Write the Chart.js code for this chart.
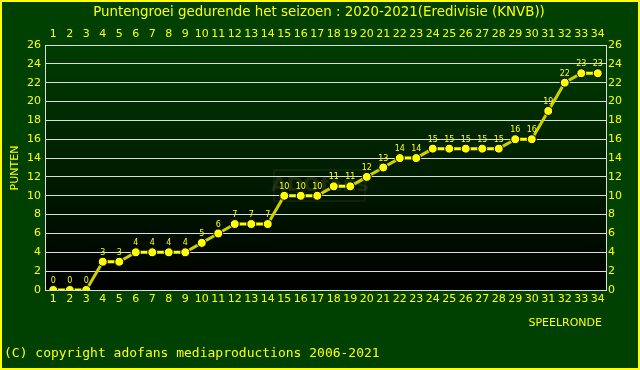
<!DOCTYPE html>
<html>
<head>
<meta charset="utf-8">
<script src="https://cdn.jsdelivr.net/npm/chart.js@4/dist/chart.umd.min.js"></script>
<style>
  html, body { margin: 0; padding: 0; background: #004000; }
  #wrap { width: 640px; height: 370px; position: relative; }
</style>
</head>
<body>
<div id="wrap"><canvas id="canvas1" width="640" height="370"></canvas></div>
<script>
const rondes = [];
for (let i = 1; i <= 34; i++) rondes.push(String(i));
const punten = [0, 0, 0, 3, 3, 4, 4, 4, 4, 5, 6, 7, 7, 7, 10, 10, 10, 11, 11, 12, 13, 14, 14, 15, 15, 15, 15, 15, 16, 16, 19, 22, 23, 23];
const titel = 'Puntengroei gedurende het seizoen : 2020-2021(Eredivisie (KNVB))';
const yTitel = 'PUNTEN';
const xTitel = 'SPEELRONDE';
const copyright = '(C) copyright adofans mediaproductions 2006-2021';

const GEEL = '#ffff00';
const FONT = 'DejaVu Sans';

// achtergrond, rand en losse teksten
const decor = {
    id: 'decor',
    beforeDraw(chart) {
        const ctx = chart.ctx;
        const a = chart.chartArea;
        ctx.save();
        ctx.fillStyle = '#004000';
        ctx.fillRect(0, 0, chart.width, chart.height);
        const g = ctx.createLinearGradient(0, a.top, 0, a.bottom);
        g.addColorStop(0, '#003c00');
        g.addColorStop(1, '#000000');
        ctx.fillStyle = g;
        ctx.fillRect(a.left, a.top, a.right - a.left, a.bottom - a.top);
        // vage watermerk
        ctx.strokeStyle = 'rgba(90,90,60,0.35)';
        ctx.lineWidth = 1;
        ctx.strokeRect(274, 170, 91, 31);
        ctx.fillStyle = 'rgba(90,90,60,0.3)';
        ctx.font = 'bold 20px ' + FONT;
        ctx.textAlign = 'center';
        ctx.textBaseline = 'middle';
        ctx.fillText('ADOfans', 320, 186);
        ctx.restore();
    },
    afterDraw(chart) {
        const ctx = chart.ctx;
        ctx.save();
        ctx.fillStyle = GEEL;
        ctx.font = '13.4px ' + FONT;
        ctx.textAlign = 'center';
        ctx.textBaseline = 'middle';
        ctx.fillText(titel, 319, 13);

        ctx.font = '11px ' + FONT;
        ctx.save();
        ctx.translate(15, 168);
        ctx.rotate(-Math.PI / 2);
        ctx.fillText(yTitel, 0, 0);
        ctx.restore();

        ctx.textAlign = 'right';
        ctx.fillText(xTitel, 602, 323);

        ctx.textAlign = 'left';
        ctx.font = '13px DejaVu Sans Mono';
        ctx.fillText(copyright, 4, 354);

        ctx.strokeStyle = GEEL;
        ctx.lineWidth = 2;
        ctx.strokeRect(1, 1, chart.width - 2, chart.height - 2);
        ctx.restore();
    },
    afterDatasetsDraw(chart) {
        const ctx = chart.ctx;
        const meta = chart.getDatasetMeta(0);
        ctx.save();
        ctx.fillStyle = GEEL;
        ctx.font = '8px ' + FONT;
        ctx.textAlign = 'center';
        ctx.textBaseline = 'bottom';
        meta.data.forEach((pt, i) => {
            ctx.fillText(punten[i], pt.x, pt.y - 5);
        });
        ctx.restore();
    }
};

const tickFont = { family: FONT, size: 11 };

const config = {
    type: 'line',
    data: {
        labels: rondes,
        datasets: [{
            data: punten,
            borderColor: GEEL,
            borderWidth: 3,
            pointRadius: 4.5,
            pointBackgroundColor: GEEL,
            pointBorderColor: '#000000',
            pointBorderWidth: 1,
            tension: 0,
            segment: {
                borderColor: c => c.p0.parsed.y === c.p1.parsed.y ? GEEL : '#d0d000'
            },
            xAxisID: 'x',
            yAxisID: 'y'
        }]
    },
    options: {
        responsive: false,
        animation: false,
        layout: { padding: 0 },
        plugins: {
            legend: { display: false },
            tooltip: { enabled: false },
            title: { display: false }
        },
        scales: {
            x: {
                position: 'bottom',
                offset: true,
                grid: { display: false, drawTicks: false },
                border: { display: true, color: '#dddddd', width: 1 },
                ticks: { color: GEEL, font: tickFont, padding: 3, maxRotation: 0, autoSkip: false },
                afterFit: s => { s.height = 80; }
            },
            x2: {
                position: 'top',
                type: 'category',
                labels: rondes,
                offset: true,
                grid: { display: false, drawTicks: false },
                border: { display: true, color: '#dddddd', width: 1 },
                ticks: { color: GEEL, font: tickFont, padding: 4, maxRotation: 0, autoSkip: false },
                afterFit: s => { s.height = 45; }
            },
            y: {
                position: 'left',
                min: 0,
                max: 26,
                grid: { color: '#dddddd', lineWidth: 1, drawTicks: false },
                border: { display: true, color: '#dddddd', width: 1 },
                ticks: { stepSize: 2, color: GEEL, font: tickFont, padding: 4 },
                afterFit: s => { s.width = 45; }
            },
            y2: {
                position: 'right',
                min: 0,
                max: 26,
                grid: { display: false, drawTicks: false },
                border: { display: true, color: '#dddddd', width: 1 },
                ticks: { stepSize: 2, color: GEEL, font: tickFont, padding: 2 },
                afterFit: s => { s.width = 34; }
            }
        }
    },
    plugins: [decor]
};

const chart = new Chart(document.getElementById('canvas1'), config);
</script>
</body>
</html>
